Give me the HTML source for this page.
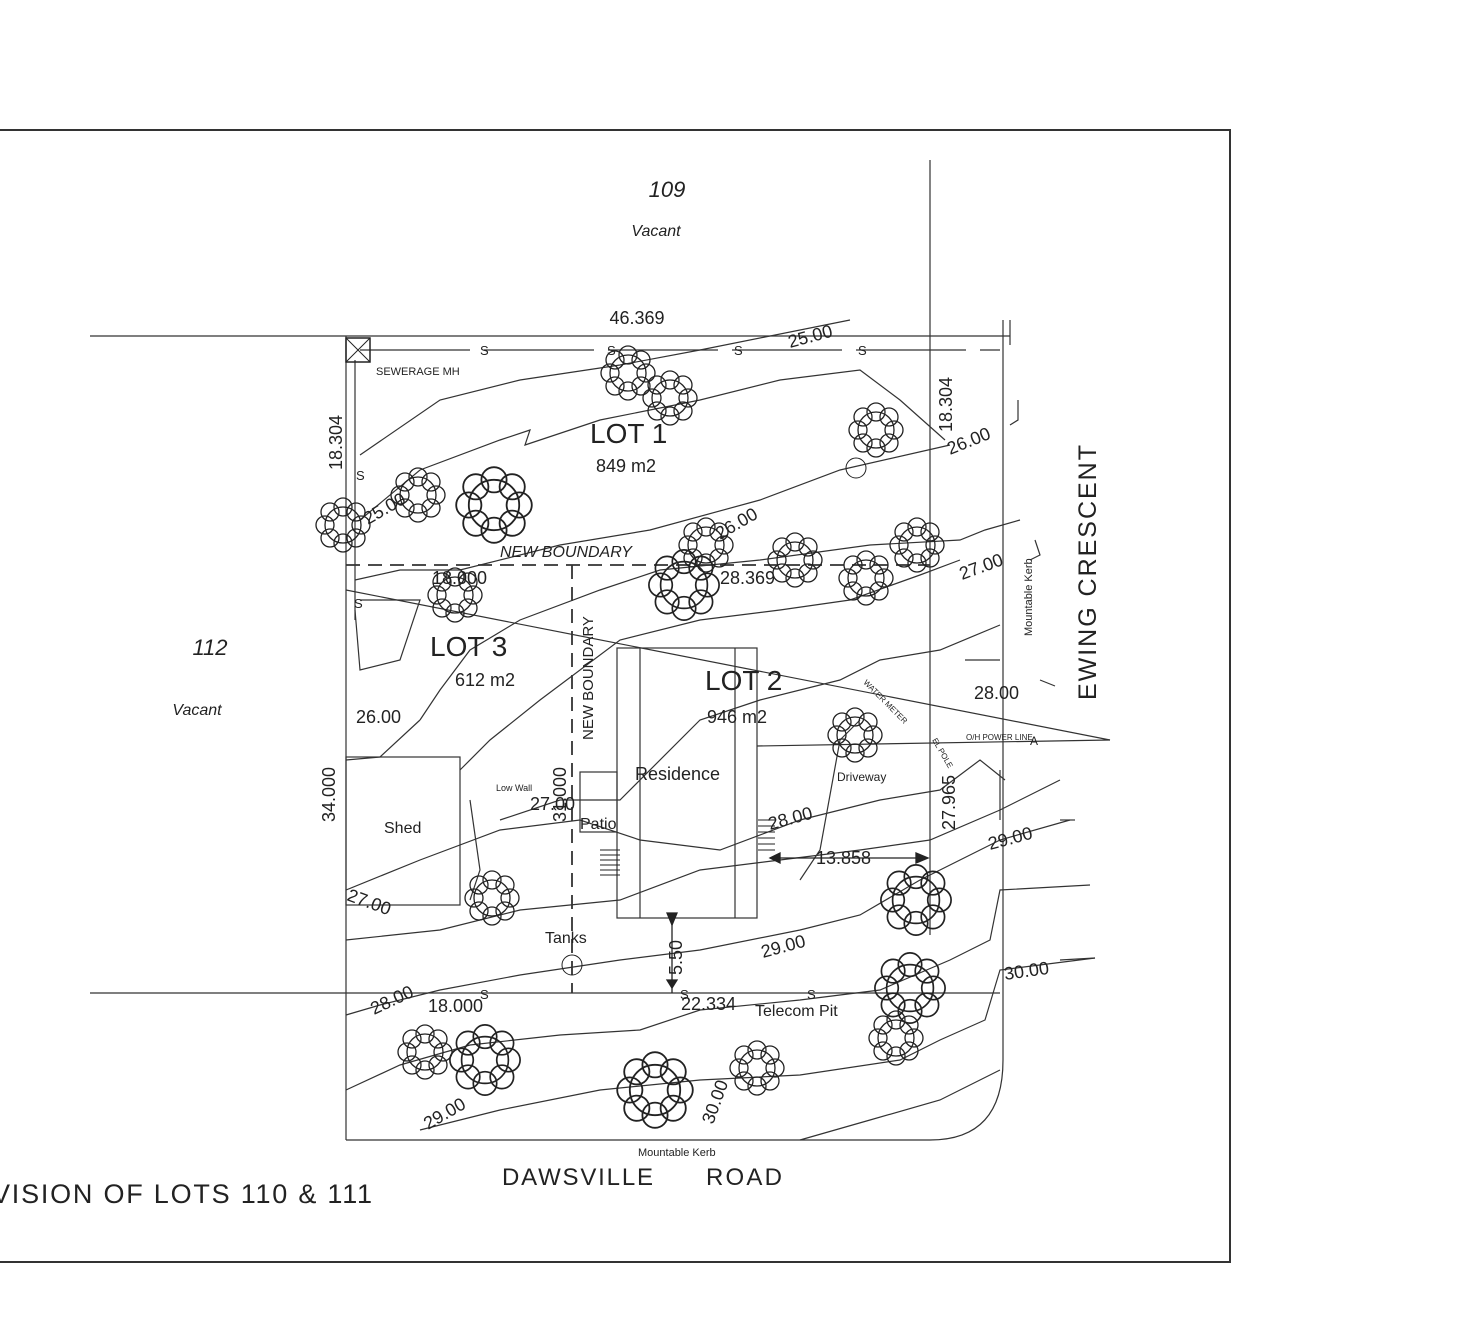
<!DOCTYPE html>
<html><head><meta charset="utf-8"><style>
html,body{margin:0;padding:0;background:#fff;}
svg{display:block;}
text{font-family:"Liberation Sans",sans-serif;fill:#222;}
</style></head><body>
<svg width="1472" height="1323" viewBox="0 0 1472 1323" xmlns="http://www.w3.org/2000/svg">
<defs>
<g id="tree" fill="none" stroke="#222" stroke-width="1.3">
<circle r="18"/><circle cx="0" cy="-18" r="9"/><circle cx="13" cy="-13" r="9"/><circle cx="18" cy="0" r="9"/><circle cx="13" cy="13" r="9"/><circle cx="0" cy="18" r="9"/><circle cx="-13" cy="13" r="9"/><circle cx="-18" cy="0" r="9"/><circle cx="-13" cy="-13" r="9"/>
</g>
</defs>
<rect width="1472" height="1323" fill="#fff"/>
<path d="M0 130 H1230 V1262 H0" fill="none" stroke="#333" stroke-width="2"/>
<g stroke="#333" stroke-width="1.2" fill="none">
<line x1="90" y1="336" x2="1010" y2="336"/>
<line x1="930" y1="160" x2="930" y2="935"/>
<line x1="346" y1="336" x2="346" y2="1140"/>
<line x1="90" y1="993" x2="1000" y2="993"/>
<path d="M346 1140 H930 Q1003 1140 1003 1060 V320"/>
<line x1="1010" y1="320" x2="1010" y2="345"/>
<line x1="360" y1="350" x2="1000" y2="350" stroke-dasharray="110 14"/>
<line x1="355" y1="360" x2="355" y2="620"/>
<line x1="346" y1="565" x2="930" y2="565" stroke-dasharray="14 8" stroke-width="1.8"/>
<line x1="572" y1="565" x2="572" y2="993" stroke-dasharray="14 8" stroke-width="1.8"/>
<rect x="617" y="648" width="140" height="270"/>
<line x1="640" y1="648" x2="640" y2="918"/>
<line x1="735" y1="648" x2="735" y2="918"/>
<rect x="580" y="772" width="37" height="60"/>
<rect x="346" y="757" width="114" height="148"/>
<line x1="346" y1="590" x2="1110" y2="740"/>
<line x1="757" y1="746" x2="1110" y2="740"/>
<path d="M360 455 L440 400 L520 380 L620 365 L700 350 L850 320"/>
<path d="M360 520 L420 470 L500 440 L530 430 L525 445 L600 420 L700 400 L780 380 L860 370 L900 400 L945 440"/>
<path d="M355 580 L400 570 L460 570 L560 545 L650 530 L760 500 L840 470 L950 445"/>
<path d="M360 600 L420 600 L400 660 L360 670 L355 610"/>
<path d="M420 720 L440 690 L470 650 L520 620 L600 590 L660 570 L760 560 L870 545 L960 540 L985 530 L1020 520"/>
<path d="M346 760 L380 757 L420 720"/>
<path d="M460 770 L490 740 L540 700 L620 640 L700 620 L780 610 L850 600 L920 575 L960 560"/>
<path d="M500 820 L560 800 L620 800 L700 720 L760 700 L840 680 L880 660 L940 650 L1000 625"/>
<path d="M346 890 L420 860 L500 830 L580 820 L640 840 L720 850 L800 820 L880 800 L940 790 L980 760 L1005 780"/>
<path d="M346 940 L440 930 L520 910 L620 900 L700 870 L780 860 L860 850 L930 840 L1000 810 L1060 780"/>
<path d="M346 1015 L380 1005 L440 990 L520 975 L620 960 L700 950 L800 930 L860 915 L920 880 L960 860 L1000 840 L1070 820"/>
<path d="M346 1090 L400 1065 L470 1045 L560 1035 L640 1030 L700 1010 L800 1000 L880 990 L950 960 L990 940 L1000 890 L1090 885"/>
<path d="M420 1130 L500 1110 L600 1090 L700 1080 L800 1075 L900 1060 L940 1040 L985 1020 L1000 970 L1095 958"/>
<path d="M800 1140 L870 1120 L940 1100 L1000 1070"/>
<path d="M470 800 L480 870 L470 900"/>
<path d="M800 880 L820 850 L840 740 L860 720"/>
<path d="M965 660 L1000 660"/>
<path d="M1000 770 L1000 820"/>
<path d="M1018 400 L1018 420 L1010 425"/>
<path d="M1035 540 L1040 555 L1030 560"/>
<path d="M1040 680 L1055 686"/>
<path d="M1060 820 L1075 820"/>
<path d="M1060 960 L1095 958"/>
</g>
<g stroke="#222" stroke-width="1.3">
<line x1="770" y1="858" x2="925" y2="858"/>
<polygon points="770,858 780,853 780,863" fill="#222"/>
<polygon points="928,858 916,853 916,863" fill="#222"/>
<line x1="672" y1="918" x2="672" y2="993"/>
<polygon points="672,925 667,913 677,913" fill="#222"/>
<polygon points="672,988 667,980 677,980" fill="#222"/>
</g>
<g stroke="#222" stroke-width="1">
<path d="M600 850 H620 M600 855 H620 M600 860 H620 M600 865 H620 M600 870 H620 M600 875 H620"/>
<path d="M758 820 H775 M758 826 H775 M758 832 H775 M758 838 H775 M758 844 H775 M758 850 H775"/>
</g>
<rect x="346" y="338" width="24" height="24" fill="none" stroke="#222" stroke-width="1.5"/>
<line x1="346" y1="338" x2="370" y2="362" stroke="#222"/><line x1="370" y1="338" x2="346" y2="362" stroke="#222"/>
<use href="#tree" x="628" y="373"/>
<use href="#tree" x="670" y="398"/>
<use href="#tree" x="876" y="430"/>
<use href="#tree" x="494" y="505" transform="translate(494 505) scale(1.4) translate(-494 -505)"/>
<use href="#tree" x="418" y="495"/>
<use href="#tree" x="343" y="525"/>
<use href="#tree" x="706" y="545"/>
<use href="#tree" x="684" y="585" transform="translate(684 585) scale(1.3) translate(-684 -585)"/>
<use href="#tree" x="795" y="560"/>
<use href="#tree" x="866" y="578"/>
<use href="#tree" x="917" y="545"/>
<use href="#tree" x="455" y="595"/>
<use href="#tree" x="855" y="735"/>
<use href="#tree" x="492" y="898"/>
<use href="#tree" x="916" y="900" transform="translate(916 900) scale(1.3) translate(-916 -900)"/>
<use href="#tree" x="910" y="988" transform="translate(910 988) scale(1.3) translate(-910 -988)"/>
<use href="#tree" x="896" y="1038"/>
<use href="#tree" x="425" y="1052"/>
<use href="#tree" x="485" y="1060" transform="translate(485 1060) scale(1.3) translate(-485 -1060)"/>
<use href="#tree" x="655" y="1090" transform="translate(655 1090) scale(1.4) translate(-655 -1090)"/>
<use href="#tree" x="757" y="1068"/>
<circle cx="856" cy="468" r="10" fill="none" stroke="#222"/>
<circle cx="572" cy="965" r="10" fill="none" stroke="#222"/>
<text x="667" y="197" font-size="22" font-style="italic" text-anchor="middle">109</text>
<text x="656" y="236" font-size="16" font-style="italic" text-anchor="middle">Vacant</text>
<text x="210" y="655" font-size="22" font-style="italic" text-anchor="middle">112</text>
<text x="197" y="715" font-size="16" font-style="italic" text-anchor="middle">Vacant</text>
<text x="637" y="324" font-size="18" text-anchor="middle">46.369</text>
<text x="376" y="375" font-size="11">SEWERAGE  MH</text>
<text x="590" y="443" font-size="28">LOT 1</text>
<text x="596" y="472" font-size="18">849 m2</text>
<text x="430" y="656" font-size="28">LOT 3</text>
<text x="455" y="686" font-size="18">612 m2</text>
<text x="705" y="690" font-size="28">LOT 2</text>
<text x="707" y="723" font-size="18">946 m2</text>
<text x="500" y="557" font-size="16" font-style="italic">NEW BOUNDARY</text>
<text x="432" y="584" font-size="18">18.000</text>
<text x="720" y="584" font-size="18">28.369</text>
<text x="635" y="780" font-size="18">Residence</text>
<text x="580" y="829" font-size="16">Patio</text>
<text x="384" y="833" font-size="16">Shed</text>
<text x="496" y="791" font-size="9">Low Wall</text>
<text x="530" y="810" font-size="18">27.00</text>
<text x="837" y="781" font-size="12">Driveway</text>
<text x="545" y="943" font-size="16">Tanks</text>
<text x="356" y="723" font-size="18">26.00</text>
<text x="816" y="864" font-size="18">13.858</text>
<text x="428" y="1012" font-size="18">18.000</text>
<text x="681" y="1010" font-size="18">22.334</text>
<text x="755" y="1016" font-size="16">Telecom  Pit</text>
<text x="974" y="699" font-size="18">28.00</text>
<text x="638" y="1156" font-size="11">Mountable  Kerb</text>
<text x="502" y="1185" font-size="24" textLength="151">DAWSVILLE</text>
<text x="706" y="1185" font-size="24" textLength="76">ROAD</text>
<text x="-8" y="1203" font-size="27" textLength="380">VISION OF LOTS 110 &amp; 111</text>
<text x="966" y="740" font-size="8">O/H POWER LINE</text>
<text x="1030" y="745" font-size="12">A</text>
<text transform="translate(342 470) rotate(-90)" font-size="18">18.304</text>
<text transform="translate(952 432) rotate(-90)" font-size="18">18.304</text>
<text transform="translate(335 822) rotate(-90)" font-size="18">34.000</text>
<text transform="translate(566 822) rotate(-90)" font-size="18">31.000</text>
<text transform="translate(593 740) rotate(-90)" font-size="15">NEW BOUNDARY</text>
<text transform="translate(955 830) rotate(-90)" font-size="18">27.965</text>
<text transform="translate(682 975) rotate(-90)" font-size="18">5.50</text>
<text transform="translate(1096 700) rotate(-90)" font-size="25" textLength="255">EWING  CRESCENT</text>
<text transform="translate(1032 636) rotate(-90)" font-size="11">Mountable  Kerb</text>
<text transform="translate(790 348) rotate(-15)" font-size="18">25.00</text>
<text transform="translate(950 455) rotate(-22)" font-size="18">26.00</text>
<text transform="translate(962 580) rotate(-20)" font-size="18">27.00</text>
<text transform="translate(990 850) rotate(-15)" font-size="18">29.00</text>
<text transform="translate(1005 980) rotate(-8)" font-size="18">30.00</text>
<text transform="translate(720 540) rotate(-30)" font-size="18">26.00</text>
<text transform="translate(368 525) rotate(-30)" font-size="18">25.00</text>
<text transform="translate(770 830) rotate(-15)" font-size="18">28.00</text>
<text transform="translate(763 958) rotate(-15)" font-size="18">29.00</text>
<text transform="translate(374 1015) rotate(-25)" font-size="18">28.00</text>
<text transform="translate(428 1130) rotate(-30)" font-size="18">29.00</text>
<text transform="translate(713 1125) rotate(-70)" font-size="18">30.00</text>
<text transform="translate(346 900) rotate(20)" font-size="18">27.00</text>
<text transform="translate(863 683) rotate(45)" font-size="8">WATER METER</text>
<text transform="translate(932 740) rotate(60)" font-size="8">EL POLE</text>
<g font-size="13">
<text x="480" y="355">S</text><text x="607" y="355">S</text><text x="734" y="355">S</text><text x="858" y="355">S</text>
<text x="356" y="480">S</text><text x="354" y="608">S</text>
<text x="480" y="999">S</text><text x="680" y="999">S</text><text x="807" y="999">S</text>
</g>
</svg>
</body></html>
